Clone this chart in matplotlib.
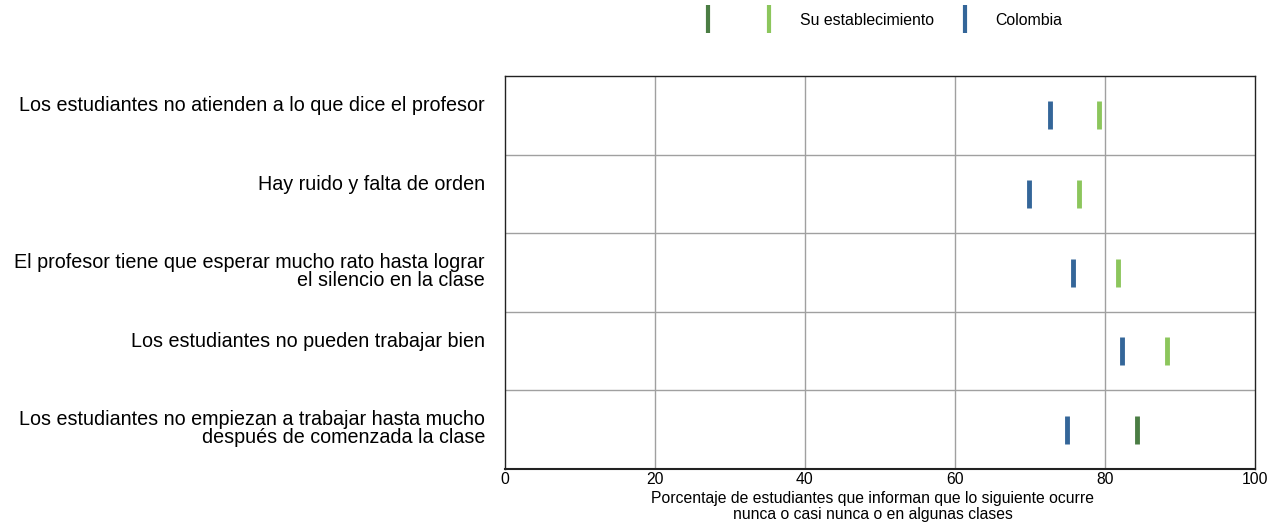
import matplotlib.pyplot as plt
from matplotlib.lines import Line2D

plt.rcParams['font.family'] = ['Liberation Sans', 'DejaVu Sans']

# data
categories = [
    "Los estudiantes no atienden a lo que dice el profesor",
    "Hay ruido y falta de orden",
    "El profesor tiene que esperar mucho rato hasta lograr\nel silencio en la clase",
    "Los estudiantes no pueden trabajar bien",
    "Los estudiantes no empiezan a trabajar hasta mucho\ndespués de comenzada la clase",
]
establecimiento = [79.2, 76.5, 81.7, 88.3, 84.3]
colombia = [72.7, 69.9, 75.7, 82.3, 74.9]
significativo = [False, False, False, False, True]
xticks = [0, 20, 40, 60, 80, 100]

c_light = '#8cc65c'
c_dark = '#4b7d44'
c_blue = '#346699'

fig = plt.figure(figsize=(12.7, 5.29), dpi=100)
ax = fig.add_axes([505/1270, 1 - 469/529, 750/1270, 393/529])

n = len(categories)
ys = [n - 1 - i + 0.5 for i in range(n)]

for y, e, c, s in zip(ys, establecimiento, colombia, significativo):
    ax.plot([c], [y], marker='|', color=c_blue, markersize=20, markeredgewidth=3.5, linestyle='none')
    ax.plot([e], [y], marker='|', color=c_dark if s else c_light, markersize=20, markeredgewidth=3.5, linestyle='none')

ax.set_xlim(0, 100)
ax.set_ylim(0, n)
ax.set_xticks(xticks)
ax.set_xticklabels([str(t) for t in xticks], fontsize=11.3)
# labels hang from near the top of each band
ax.set_yticks([y + 0.5 - 0.255 for y in ys])
ax.set_yticklabels(categories, fontsize=14.2, ha='right', va='top', linespacing=0.92)
ax.tick_params(axis='y', length=0, pad=14.4)
ax.tick_params(axis='x', length=0, pad=2)
for x in xticks[1:-1]:
    ax.axvline(x, color='#a0a0a0', linewidth=1, zorder=0)
for y in range(1, n):
    ax.axhline(y, color='#a0a0a0', linewidth=1, zorder=0)
for sp in ax.spines.values():
    sp.set_color('#222222')
    sp.set_linewidth(1)
ax.spines['bottom'].set_linewidth(1.5)

ax.set_xlabel("Porcentaje de estudiantes que informan que lo siguiente ocurre\nnunca o casi nunca o en algunas clases",
              fontsize=11.3, labelpad=3, linespacing=1.15)
ax.xaxis.set_label_coords(0.49, -0.055, transform=ax.transAxes)
ax.xaxis.label.set_va('top')

handles = [
    Line2D([], [], marker='|', color=c_dark, markersize=20, markeredgewidth=3, linestyle='none'),
    Line2D([], [], marker='|', color=c_light, markersize=20, markeredgewidth=3, linestyle='none'),
    Line2D([], [], marker='|', color=c_blue, markersize=20, markeredgewidth=3, linestyle='none'),
]
fig.legend(handles, ['', 'Su establecimiento', 'Colombia'], loc='center',
           bbox_to_anchor=(881/1270, 1 - 20/529), ncol=3, frameon=False,
           fontsize=11.4, handlelength=1.0, columnspacing=1.46, handletextpad=1.43)

fig.savefig('out.png', dpi=100)
